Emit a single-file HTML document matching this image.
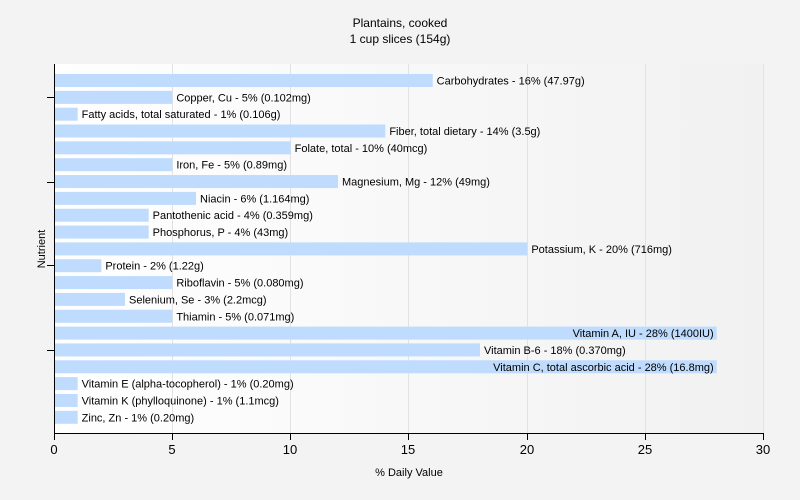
<!DOCTYPE html>
<html><head><meta charset="utf-8"><style>
body{margin:0;background:#f3f3f3;}
svg{display:block;font-family:"Liberation Sans",sans-serif;}
</style></head><body>
<svg width="800" height="500" xmlns="http://www.w3.org/2000/svg">
<defs><linearGradient id="g" x1="0" x2="1" y1="0" y2="0"><stop offset="0" stop-color="#ffffff"/><stop offset="1" stop-color="#f1f1f1"/></linearGradient></defs>
<rect width="800" height="500" fill="#f3f3f3"/>
<rect x="54" y="64" width="710" height="370" fill="url(#g)"/>
<g stroke="#e2e2e2" stroke-width="1">
<line x1="172.5" y1="64" x2="172.5" y2="434"/><line x1="290.5" y1="64" x2="290.5" y2="434"/><line x1="408.5" y1="64" x2="408.5" y2="434"/><line x1="527.5" y1="64" x2="527.5" y2="434"/><line x1="645.5" y1="64" x2="645.5" y2="434"/><line x1="763.5" y1="64" x2="763.5" y2="434"/>
</g>
<text x="400" y="27" font-size="12" text-anchor="middle" fill="#000">Plantains, cooked</text>
<text x="400" y="43" font-size="12" text-anchor="middle" fill="#000">1 cup slices (154g)</text>
<g id="bars" font-size="11" fill="#000"></g>
<g stroke="#000" stroke-width="1">
<line x1="54.5" y1="64" x2="54.5" y2="434"/><line x1="54" y1="433.5" x2="764" y2="433.5"/>
<line x1="47" y1="97.5" x2="54" y2="97.5"/><line x1="47" y1="182.5" x2="54" y2="182.5"/><line x1="47" y1="265.5" x2="54" y2="265.5"/><line x1="47" y1="350.5" x2="54" y2="350.5"/>
<line x1="54.5" y1="434" x2="54.5" y2="440"/><line x1="172.5" y1="434" x2="172.5" y2="440"/><line x1="290.5" y1="434" x2="290.5" y2="440"/><line x1="408.5" y1="434" x2="408.5" y2="440"/><line x1="527.5" y1="434" x2="527.5" y2="440"/><line x1="645.5" y1="434" x2="645.5" y2="440"/><line x1="763.5" y1="434" x2="763.5" y2="440"/>
</g>
<g font-size="13" text-anchor="middle" fill="#000">
<text x="54" y="454">0</text><text x="172" y="454">5</text><text x="290" y="454">10</text><text x="408" y="454">15</text><text x="527" y="454">20</text><text x="645" y="454">25</text><text x="763" y="454">30</text>
</g>
<text x="409" y="476" font-size="11" text-anchor="middle">% Daily Value</text>
<text x="45" y="249" font-size="11" text-anchor="middle" transform="rotate(-90 45 249)">Nutrient</text>
</svg>
<script>
const d=[["Carbohydrates - 16% (47.97g)",16],["Copper, Cu - 5% (0.102mg)",5],["Fatty acids, total saturated - 1% (0.106g)",1],["Fiber, total dietary - 14% (3.5g)",14],["Folate, total - 10% (40mcg)",10],["Iron, Fe - 5% (0.89mg)",5],["Magnesium, Mg - 12% (49mg)",12],["Niacin - 6% (1.164mg)",6],["Pantothenic acid - 4% (0.359mg)",4],["Phosphorus, P - 4% (43mg)",4],["Potassium, K - 20% (716mg)",20],["Protein - 2% (1.22g)",2],["Riboflavin - 5% (0.080mg)",5],["Selenium, Se - 3% (2.2mcg)",3],["Thiamin - 5% (0.071mg)",5],["Vitamin A, IU - 28% (1400IU)",28],["Vitamin B-6 - 18% (0.370mg)",18],["Vitamin C, total ascorbic acid - 28% (16.8mg)",28],["Vitamin E (alpha-tocopherol) - 1% (0.20mg)",1],["Vitamin K (phylloquinone) - 1% (1.1mcg)",1],["Zinc, Zn - 1% (0.20mg)",1]];
const g=document.getElementById("bars");let s="";
d.forEach((r,i)=>{const y=74+i*16.84;const w=r[1]*710/30;
s+=`<rect x="54" y="${y}" width="${w}" height="13" fill="#bfdbfd"/>`;
if(r[1]>=28)s+=`<text x="${54+w-3}" y="${y+10.5}" text-anchor="end">${r[0]}</text>`;
else s+=`<text x="${54+w+4}" y="${y+10.5}">${r[0]}</text>`;});
g.innerHTML=s;
</script>
</body></html>
